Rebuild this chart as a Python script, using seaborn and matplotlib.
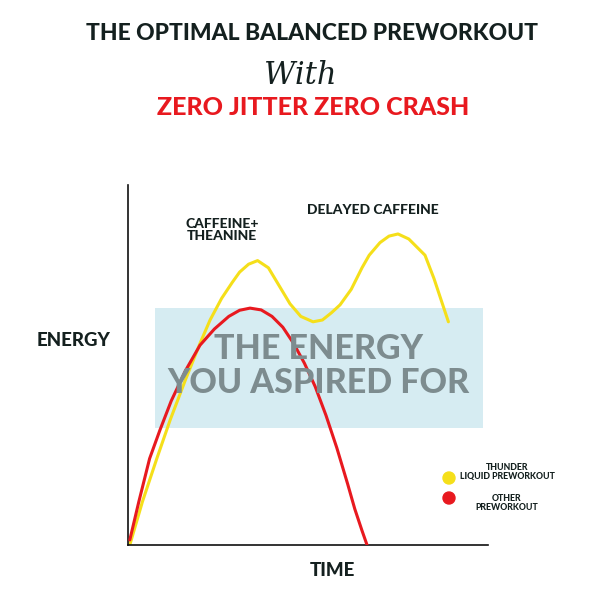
import matplotlib
matplotlib.use("Agg")
import matplotlib.pyplot as plt
import seaborn as sns
import pandas as pd
from matplotlib.patches import Rectangle

thunder_x = [0.5, 4, 8, 11.7, 16, 20, 22.8, 26, 29, 31, 33.5, 36, 39, 42, 45, 48, 51.4, 54, 56.5, 58.9, 62, 65, 67, 70, 72.5, 75, 78, 80.5, 82.5, 85, 87, 89]
thunder_y = [0, 12, 24, 34.7, 46, 56, 62.5, 68.5, 73, 75.8, 78, 79, 77, 72, 67, 63.5, 62, 62.5, 64.5, 66.7, 71, 77, 80.5, 84, 85.8, 86.4, 85, 82.5, 80.5, 74, 68, 62]
other_x = [0.5, 3, 6, 8.9, 12, 16, 20, 24, 28, 31, 33.9, 37, 40, 43, 46, 49, 52, 55, 58, 61, 63, 65, 66.4]
other_y = [1.4, 12, 24, 32, 40, 48.5, 55.5, 60, 63.5, 65.2, 65.8, 65.3, 63.5, 60.5, 56, 50.5, 44, 36, 27, 17, 10, 4, 0]

sns.set_theme(style="white")
plt.rcParams['font.family'] = ['Lato', 'DejaVu Sans']

fig = plt.figure(figsize=(6, 6), dpi=100)
ax = fig.add_axes([128/600, 55/600, 360/600, 360/600])
ax.set_xlim(0, 100); ax.set_ylim(0, 100)
ax.add_patch(Rectangle(((155-128)/3.6, (545-428)/3.6), (483-155)/3.6, 120/3.6,
                       color="#cfe9f0", alpha=0.85, zorder=0, lw=0))
sns.lineplot(data=pd.DataFrame({"x": thunder_x, "y": thunder_y}), x="x", y="y", ax=ax,
             color="#f5df1a", lw=2.2, sort=False, zorder=2)
sns.lineplot(data=pd.DataFrame({"x": other_x, "y": other_y}), x="x", y="y", ax=ax,
             color="#e8191f", lw=2.2, sort=False, zorder=3)
ax.text((318-128)/3.6, (545-366)/3.6, "THE ENERGY\nYOU ASPIRED FOR", ha="center", va="center",
        fontsize=24.5, fontweight="black", color="#7d8c8f", linespacing=1.1, zorder=4)
ax.set_xlabel(""); ax.set_ylabel("")
ax.set_xticks([]); ax.set_yticks([])
for s in ["top", "right"]:
    ax.spines[s].set_visible(False)
for s in ["left", "bottom"]:
    ax.spines[s].set_color("#111"); ax.spines[s].set_linewidth(1.2)

dark = "#14201f"
fig.text(0.52, 1-33/600, "THE OPTIMAL BALANCED PREWORKOUT", ha="center", va="center",
         fontsize=16.5, fontweight="black", color=dark)
fig.text(0.5, 1-75/600, "With", ha="center", va="center", fontsize=22,
         style="italic", family=["DejaVu Serif"], color=dark)
fig.text(313/600, 1-108/600, "ZERO JITTER ZERO CRASH", ha="center", va="center",
         fontsize=18, fontweight="black", color="#e8191f")
fig.text(74/600, 1-340/600, "ENERGY", ha="center", va="center", fontsize=13.5, fontweight="black", color=dark)
fig.text(332/600, 1-570/600, "TIME", ha="center", va="center", fontsize=13.5, fontweight="black", color=dark)
fig.text(222/600, 1-230/600, "CAFFEINE+\nTHEANINE", ha="center", va="center", fontsize=10,
         fontweight="black", color=dark, linespacing=1.1)
fig.text(373/600, 1-210/600, "DELAYED CAFFEINE", ha="center", va="center", fontsize=10,
         fontweight="black", color=dark)
fig.patches.append(plt.Circle((449/600, 1-478/600), 6/600, color="#f5df1a", transform=fig.transFigure, figure=fig))
fig.patches.append(plt.Circle((449/600, 1-498/600), 6/600, color="#e8191f", transform=fig.transFigure, figure=fig))
fig.text(507/600, 1-472/600, "THUNDER\nLIQUID PREWORKOUT", ha="center", va="center", fontsize=6.3,
         fontweight="black", color=dark, linespacing=1.1)
fig.text(507/600, 1-503/600, "OTHER\nPREWORKOUT", ha="center", va="center", fontsize=6.3,
         fontweight="black", color=dark, linespacing=1.1)
fig.savefig("out.png", dpi=100, facecolor="white")
